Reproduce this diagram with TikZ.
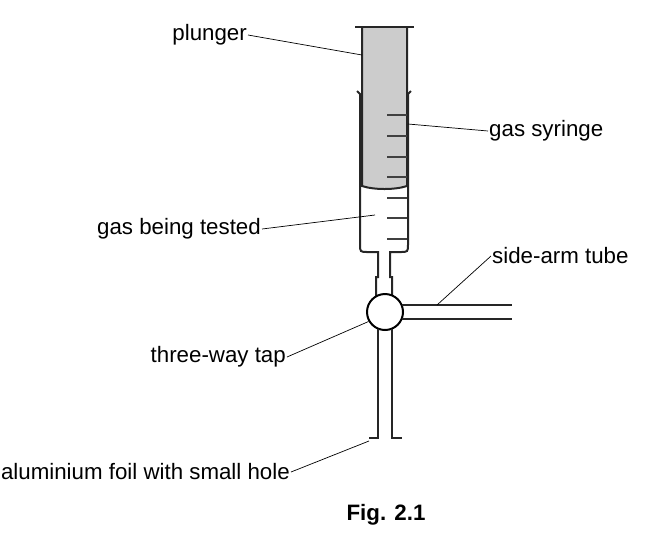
\documentclass[tikz,border=0pt]{standalone}
\usepackage{fontspec}
\setmainfont{Liberation Sans}
\begin{document}
\begin{tikzpicture}[x=1pt,y=-1pt,
  lbl/.style={font=\fontsize{22.3}{26}\selectfont,inner sep=1pt},
  app/.style={line width=2pt,black!85},
  lead/.style={line width=0.7pt},
  tick/.style={line width=1.3pt,black!75}]
\useasboundingbox (0,0) rectangle (658,550);
% plunger
\fill[black!20] (362,27) -- (407,27) -- (407,186) .. controls (395,190) and (374,190) .. (362,186) -- cycle;
\draw[app] (362,27) -- (362,186) .. controls (374,190) and (395,190) .. (407,186) -- (407,27);
\draw[app] (355,27) -- (414,27);
% barrel
\draw[app] (357,91) -- (360,94) -- (360,244) .. controls (360,252) .. (368,252) -- (378,252) -- (378,277) -- (376,277) -- (376,300);
\draw[app] (411,91) -- (408,94) -- (408,244) .. controls (408,252) .. (400,252) -- (390,252) -- (390,277) -- (392,277) -- (392,300);
\foreach \y in {115,136,157,177,198,218,239} \draw[tick] (387,\y) -- (407,\y);
% tap
\node[circle,draw,line width=2pt,minimum size=36pt,inner sep=0pt,fill=white] (tap) at (385,312) {};
\draw[app] (402,305) -- (512,305);
\draw[app] (402,319) -- (512,319);
\draw[app] (378,329) -- (378,438) -- (369,438);
\draw[app] (392,329) -- (392,438) -- (402,438);
% labels
\node[lbl,anchor=east] (pl) at (248,35) {plunger};
\draw[lead] (pl.east) -- (362,55);
\node[lbl,anchor=west] (gs) at (488,131) {gas syringe};
\draw[lead] (gs.west) -- (408,124);
\node[lbl,anchor=east] (gt) at (262,229) {gas being tested};
\draw[lead] (gt.east) -- (375,215);
\node[lbl,anchor=west] (sa) at (491,256) {side-arm tube};
\draw[lead] (sa.west) -- (437,305);
\node[lbl,anchor=east] (tt) at (287,357) {three-way tap};
\draw[lead] (tt.east) -- (tap.210);
\node[lbl,anchor=east] (af) at (291,472) {aluminium foil with small hole};
\draw[lead] (af.east) -- (369,441);
\node[lbl,font=\fontsize{22.3}{26}\selectfont\bfseries] (fig) at (386,515) {Fig. 2.1};
\end{tikzpicture}
\end{document}
